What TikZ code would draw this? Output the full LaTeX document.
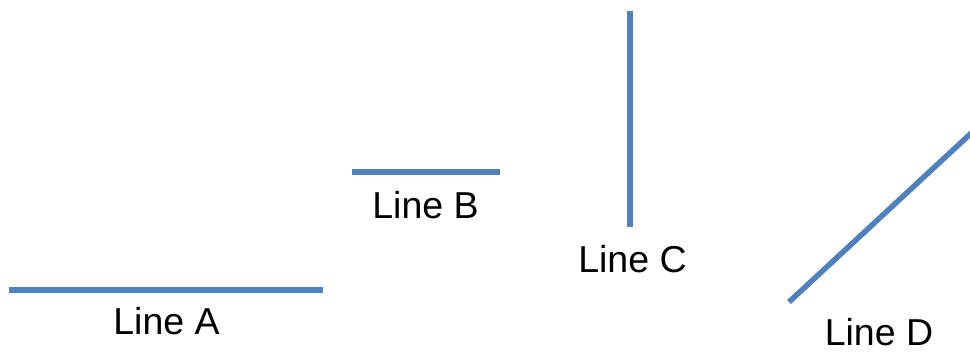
\documentclass[tikz,border=0pt]{standalone}
\usepackage{fontspec}
\setmainfont{Liberation Sans}
\definecolor{lineblue}{HTML}{4F81BD}
\begin{document}
\begin{tikzpicture}[x=1pt,y=-1pt,
        every node/.style={font=\fontsize{37.5}{42}\selectfont,inner sep=0pt,anchor=base},
        seg/.style={draw=lineblue,line width=5.5pt}]
      \clip (0,0) rectangle (970,352);
      \coordinate (A1) at (9,290);   \coordinate (A2) at (323,290);   % Line A
      \coordinate (B1) at (352,172); \coordinate (B2) at (500,172);   % Line B
      \coordinate (C1) at (630,11);  \coordinate (C2) at (630,227);   % Line C
      \coordinate (D1) at (789,302); \coordinate (D2) at (980,125);   % Line D
      \path[seg] (A1) -- (A2);
      \path[seg] (B1) -- (B2);
      \path[seg] (C1) -- (C2);
      \path[seg] (D1) -- (D2);
      \node (LA) at (166.5,335) {Line A};
      \node (LB) at (425.5,218.5) {Line B};
      \node (LC) at (632.5,272.5) {Line C};
      \node (LD) at (879,346) {Line D};
\end{tikzpicture}
\end{document}
